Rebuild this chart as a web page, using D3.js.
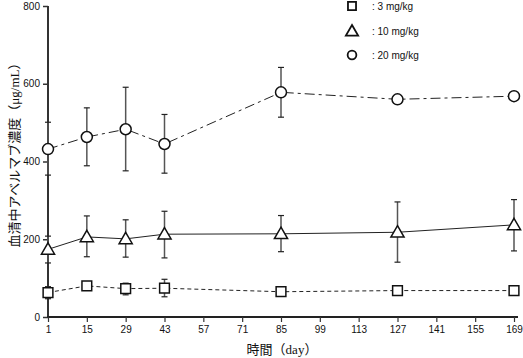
<!DOCTYPE html>
<html><head><meta charset="utf-8">
<script src="https://cdn.jsdelivr.net/npm/d3@7"></script>
<style>body{margin:0;background:#fff}svg{display:block}</style>
</head><body><svg id="c" width="523" height="358"></svg>
<script>
const days = [1, 15, 29, 43, 85, 127, 169];
const xTicks = [1, 15, 29, 43, 57, 71, 85, 99, 113, 127, 141, 155, 169];
const yTicks = [0, 200, 400, 600, 800];
const seriesNames = ["3 mg/kg", "10 mg/kg", "20 mg/kg"];
const mean3 = [63, 80, 73, 74, 65, 68, 68];
const lo3 = [47, 80, 57, 52, 65, 68, 68];
const hi3 = [78, 80, 87, 97, 65, 68, 68];
const mean10 = [174, 206, 201, 213, 214, 218, 237];
const lo10 = [139, 155, 154, 152, 168, 141, 170];
const hi10 = [208, 260, 250, 272, 261, 296, 302];
const mean20 = [432, 463, 483, 445, 578, 560, 568];
const lo20 = [365, 389, 376, 370, 514, 560, 568];
const hi20 = [501, 538, 591, 521, 642, 560, 568];
const xTitleParts = [["時間（", "jp"], ["day", "serif"], ["）", "jp"]];
const yTitleParts = [["血清中アベルマブ濃度（", "jp"], ["μg/mL", "serif"], ["）", "jp"]];

const svg = d3.select("#c");
const x = d3.scaleLinear().domain([1, 169]).range([48, 514]);
const y = d3.scaleLinear().domain([0, 800]).range([317, 6]);
const font = "'Liberation Sans', Arial, sans-serif";
const fonts = {jp: "'Noto Sans CJK JP', sans-serif", serif: "'Liberation Serif', 'DejaVu Serif', serif"};

const series = [
  {name: seriesNames[0], m: mean3, lo: lo3, hi: hi3, dash: "4,3", sym: d3.symbolSquare, size: 95},
  {name: seriesNames[1], m: mean10, lo: lo10, hi: hi10, dash: null, sym: d3.symbolTriangle, size: 75},
  {name: seriesNames[2], m: mean20, lo: lo20, hi: hi20, dash: "10,4,3,4", sym: d3.symbolCircle, size: 95}
];

// axes
const yAxis = d3.axisLeft(y).tickValues(yTicks).tickSize(5).tickPadding(3);
const gy = svg.append("g").attr("transform", "translate(48,0)").call(yAxis);
gy.select(".domain").attr("stroke", "#333").attr("stroke-width", 2).attr("d", "M0,6V317");
gy.selectAll(".tick line").attr("stroke", "#333").attr("stroke-width", 1.5);
gy.selectAll("text").attr("font-family", font).attr("font-size", 10).attr("fill", "#111");

const xAxis = d3.axisBottom(x).tickValues(xTicks).tickSize(5).tickPadding(4);
const gx = svg.append("g").attr("transform", "translate(0,317)").call(xAxis);
gx.select(".domain").attr("stroke", "#222").attr("stroke-width", 2).attr("d", "M47,0H518");
gx.selectAll(".tick line").attr("stroke", "#333").attr("stroke-width", 1.2);
gx.selectAll("text").attr("font-family", font).attr("font-size", 10).attr("fill", "#111");

// titles
function addTitle(sel, parts) {
  parts.forEach(([t, f]) => sel.append("tspan").attr("font-family", fonts[f]).text(t));
}
const xt = svg.append("text").attr("x", 282).attr("y", 354).attr("text-anchor", "middle")
  .attr("font-size", 13).attr("fill", "#111");
addTitle(xt, xTitleParts);
const yt = svg.append("text").attr("transform", "translate(19,152) rotate(-90)").attr("text-anchor", "middle")
  .attr("font-size", 13).attr("fill", "#111");
addTitle(yt, yTitleParts);

// series
series.forEach(s => {
  const pts = days.map((d, i) => ({d, m: s.m[i], lo: s.lo[i], hi: s.hi[i]}));
  const g = svg.append("g");
  pts.filter(p => p.hi > p.lo).forEach(p => {
    g.append("line").attr("x1", x(p.d)).attr("x2", x(p.d)).attr("y1", y(p.lo)).attr("y2", y(p.hi))
      .attr("stroke", "#555").attr("stroke-width", 1.5);
    [p.lo, p.hi].forEach(v => g.append("line").attr("x1", x(p.d) - 3).attr("x2", x(p.d) + 3)
      .attr("y1", y(v)).attr("y2", y(v)).attr("stroke", "#222").attr("stroke-width", 1.2));
  });
  g.append("path").datum(pts)
    .attr("d", d3.line().x(p => x(p.d)).y(p => y(p.m)))
    .attr("fill", "none").attr("stroke", "#222").attr("stroke-width", 1)
    .attr("stroke-dasharray", s.dash);
  g.selectAll(".pt").data(pts).join("path")
    .attr("transform", p => `translate(${x(p.d)},${y(p.m) + (s.sym === d3.symbolTriangle ? 1 : 0)})`)
    .attr("d", d3.symbol().type(s.sym).size(s.size))
    .attr("fill", "#fff").attr("stroke", "#111").attr("stroke-width", 1.5);
});

// legend
const legY = [6, 31, 55];
series.forEach((s, i) => {
  svg.append("path").attr("transform", `translate(352,${legY[i] + (s.sym === d3.symbolTriangle ? 1 : 0)})`)
    .attr("d", d3.symbol().type(s.sym).size(s.sym === d3.symbolCircle ? 60 : 65))
    .attr("fill", "#fff").attr("stroke", "#111").attr("stroke-width", 1.8);
  svg.append("text").attr("x", 372).attr("y", legY[i] + 3.5)
    .attr("font-family", font).attr("font-size", 10).attr("fill", "#111")
    .text(": " + s.name);
});
</script></body></html>
